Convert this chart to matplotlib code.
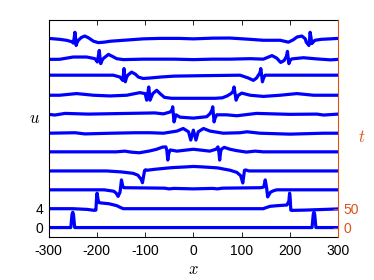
import numpy as np
import matplotlib
matplotlib.use('Agg')
import matplotlib.pyplot as plt

# waterfall of u(x) at several times t; each profile is a list of (x, u)
t_values = [0, 50, 100, 150, 200, 250, 300, 350, 400, 450, 500]
u_per_t = 4 / 50.0          # right axis t=50 sits on left axis u=4

u_t000 = [(-300, 0), (-254, 0), (-251.5, 2.8), (-250, 3.25), (-248.5, 2.8), (-246, 0),
          (246, 0), (248.5, 2.8), (250, 3.25), (251.5, 2.8), (254, 0), (300, 0)]

u_t050 = [(-300, 0), (-250, 0), (-220, -0.15), (-206, -0.35), (-202, -0.3), (-200.5, 2.5),
          (-199.5, 3.3), (-198, 2.2), (-196, 1.3), (-190, 1.2), (-175, 1.05), (-159, 0.65),
          (-150, 0.2), (-145, 0), (145, 0), (150, 0.2), (159, 0.5), (175, 0.65),
          (194, 0.78), (198, 1.6), (199.5, 3.3), (200.5, 2.5), (202, -0.3), (204, -0.36),
          (230, -0.3), (260, -0.2), (300, -0.05)]

u_t100 = [(-300, 0), (-185, 0), (-165, -0.3), (-160, -0.7), (-156, -1.4), (-152, -0.5),
          (-149, 2.1), (-146, 0.6), (-144, 0.45), (-100, 0.4), (-60, 0.35), (-50, 0.2),
          (-40, 0.3), (0, 0.2), (40, 0.3), (50, 0.2), (60, 0.35), (100, 0.4), (140, 0.45),
          (146, 0.6), (149, 2.1), (152, 0.3), (154, -1.5), (160, -0.5), (166, -0.2),
          (173, 0), (300, 0)]

u_t150 = [(-300, 0), (-180, 0), (-150, -0.2), (-125, -0.5), (-115, -0.9), (-108, -1.8),
          (-105.5, -2.5), (-103, -1.0), (-101, 0.1), (-99, 0.25), (-96, 0.15), (-80, 0.35),
          (-45, 0.7), (-17, 0.85), (0, 0.95), (20, 0.85), (50, 0.65), (76, 0.15),
          (90, -0.3), (98, -1.0), (102.5, -2.55), (104.5, -1.0), (106, 0.15), (109, 0.2),
          (115, 0), (300, 0)]

u_t200 = [(-300, 0.05), (-160, 0.05), (-142, 0.2), (-130, 0), (-112, -0.15), (-90, 0.25),
          (-76, 0.6), (-64, 1.05), (-57, 1.1), (-55, 0.4), (-53, -1.7), (-51, -0.3),
          (-48, 0.45), (-34, 0.2), (0, 0.6), (34, 0.2), (47, 0.6), (51, 1.1), (53, 0),
          (54.5, -1.7), (56.5, 0), (58, 0.6), (64, 1.0), (76, 0.6), (90, 0.3), (110, 0),
          (128, 0.2), (145, 0.05), (300, 0.05)]

u_t250 = [(-300, 0), (-245, 0.1), (-225, -0.15), (-170, 0), (-120, 0.1), (-90, 0.1),
          (-62, 0), (-34, 0.45), (-21, 1.0), (-10, 0.3), (-5.4, -1.45), (0, 0.65),
          (5.4, -1.45), (10, 0.3), (21, 1.0), (34.6, 0.45), (62, 0), (97, 0.1),
          (111, 0.3), (138, 0), (200, -0.2), (270, 0), (300, 0)]

u_t300 = [(-300, 0), (-287, -0.15), (-266, 0.2), (-218, 0.05), (-135, 0.2), (-80, 0.3),
          (-62, 0.1), (-48, 0.5), (-44, 1.0), (-42.8, 1.6), (-41.5, 0), (-40, -1.6),
          (-38, -0.8), (-36, -0.1), (-27.6, -0.6), (0, -0.8), (27.8, -0.5), (35, 0.2),
          (38.5, 0.9), (40.2, 1.6), (41.5, 0), (43, -1.6), (45, -0.8), (48.5, -0.1),
          (69, -0.1), (90, -0.3), (131, 0.2), (200, 0), (256, 0.05), (270, -0.15),
          (300, 0.05)]

u_t350 = [(-300, 0.05), (-277, 0.05), (-242, 0.4), (-207, 0.05), (-173, -0.1), (-138, 0.05),
          (-111, 0.6), (-100, 0.4), (-96.7, -1.0), (-94.5, 0.4), (-92.5, 1.8), (-91, 0.4),
          (-89.8, -1.0), (-87, -0.3), (-84, 0.4), (-76, 1.1), (-69, 0.4), (-60, -0.4),
          (-45, -0.6), (0, -0.6), (45, -0.6), (60, -0.5), (70, -0.1), (78, 0.4), (82, 0.8),
          (84.4, 1.8), (86.5, 0.4), (88.6, -1.0), (91, -0.4), (93.4, 0.05), (100.4, 0.5),
          (117.6, 0.05), (145, -0.2), (180, 0.05), (214.5, 0.4), (249, 0.05), (300, 0.05)]

u_t400 = [(-300, 0.3), (-166, 0.3), (-152, -0.1), (-146.5, -0.8), (-145, 0.4), (-143.8, 1.7),
          (-142.5, 0.3), (-141, -1.1), (-138.5, -0.2), (-136, 0.3), (-128, 0.95),
          (-120, 0.5), (-114, -0.1), (-104, -0.4), (-90, -0.3), (-69, -0.1), (-40, 0.1),
          (-10, 0.15), (20, 0.2), (60, 0.25), (96.7, 0.3), (114, -0.3), (124.5, -0.8),
          (131, -0.3), (134.8, 0.3), (138, 0.8), (139.8, 1.7), (141.5, 0.3), (143.2, -1.1),
          (145.5, -0.3), (148.8, 0.3), (218, 0.3), (300, 0.3)]

u_t450 = [(-300, -0.35), (-277, -0.33), (-249, 0.15), (-221, 0.15), (-204, -0.2),
          (-199, -0.9), (-197, 0.3), (-195, 1.55), (-193.5, 0), (-192, -1.25),
          (-189, -0.5), (-186, -0.1), (-176, 0.7), (-168, 0.3), (-159, -0.2), (-145, -0.4),
          (-104, -0.3), (-69, -0.3), (-40, -0.3), (0, -0.4), (40, -0.3), (76, -0.3),
          (118, -0.2), (145, -0.3), (163, 0.45), (173, -0.1), (181, -1.0), (188, -0.6),
          (193, 0.3), (195, 1.35), (196.5, 0), (198, -1.25), (201, -0.5), (204, -0.25),
          (228, 0), (256, -0.25), (284, -0.45), (300, -0.35)]

u_t500 = [(-300, 0.1), (-277, -0.1), (-263, -0.3), (-252, -0.6), (-249, -0.9), (-247, 0.2),
          (-245.5, 1.4), (-244, 0), (-243, -1.4), (-241, -0.8), (-238.5, -0.3),
          (-232, 0.3), (-225, 0.6), (-217, 0.2), (-207, -0.5), (-197, -0.8), (-185, -0.7),
          (-172, -0.5), (-138, -0.25), (-104, 0), (-69, 0.1), (-30, 0.1), (0, 0),
          (40, 0.15), (76, 0.17), (118, -0.1), (145, -0.3), (180, -0.3), (197, -0.7),
          (207, -0.2), (215, 0.4), (225, 0.6), (232, 0), (234, -0.7), (239.5, -1.4),
          (241, 0), (242, 1.4), (244, 0.2), (245.5, -1.0), (249, -0.6), (252, -0.3),
          (265, -0.1), (284, 0), (300, 0.1)]

profiles = [u_t000, u_t050, u_t100, u_t150, u_t200, u_t250,
            u_t300, u_t350, u_t400, u_t450, u_t500]

x_ticks = [-300, -200, -100, 0, 100, 200, 300]
u_ticks = [0, 4]
t_ticks = [0, 50]

orange = '#D95319'
plt.rcParams['font.family'] = ['Liberation Sans', 'DejaVu Sans']
plt.rcParams['mathtext.fontset'] = 'cm'

fig = plt.figure(figsize=(3.74, 2.80), dpi=100)
ax = fig.add_axes([0.130, 0.1536, 0.774, 0.775])

for t, prof in zip(t_values, profiles):
    xs = np.array([p[0] for p in prof])
    us = np.array([p[1] for p in prof])
    ax.plot(xs, us + t * u_per_t, color='b', lw=2.3, solid_joinstyle='round')

ax.set_xlim(-300, 300)
ax.set_ylim(-2, 44)
ax.set_xticks(x_ticks)
ax.set_xticklabels([str(v) for v in x_ticks])
ax.set_yticks(u_ticks)
ax.tick_params(axis='both', direction='in', length=3.5, width=0.6, labelsize=10, pad=4)
ax.tick_params(axis='x', top=True, pad=5)
for s in ['left', 'bottom', 'top']:
    ax.spines[s].set_linewidth(0.8)
ax.spines['right'].set_visible(False)

ax2 = ax.twinx()
ax2.set_ylim(-2 / u_per_t, 44 / u_per_t)
ax2.set_yticks(t_ticks)
ax2.tick_params(axis='y', direction='in', length=3.5, width=0.6, labelsize=10, pad=4,
                colors=orange)
for s in ['left', 'bottom', 'top']:
    ax2.spines[s].set_visible(False)
ax2.spines['right'].set_color(orange)
ax2.spines['right'].set_linewidth(0.8)

ax.set_xlabel('$x$', fontsize=12, labelpad=3)
ax.text(-0.047, 0.548, '$u$', transform=ax.transAxes, fontsize=12,
        ha='center', va='center')
ax.text(1.083, 0.46, '$t$', transform=ax.transAxes, fontsize=12,
        ha='center', va='center', color=orange)

fig.savefig('out.png', dpi=100)
